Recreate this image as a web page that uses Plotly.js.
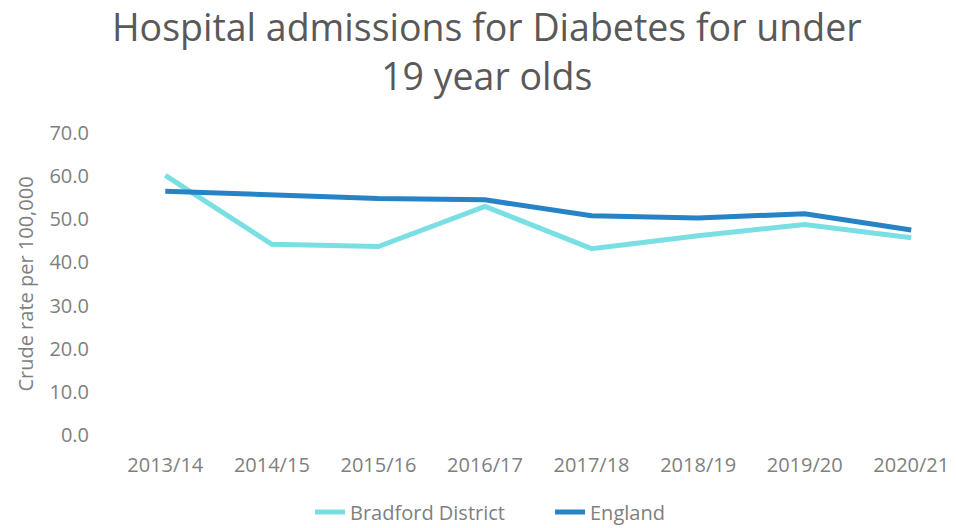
<!DOCTYPE html>
<html>
<head>
<meta charset="utf-8">
<script src="https://cdn.plot.ly/plotly-3.0.1.min.js"></script>
<style>html,body{margin:0;padding:0;background:#fff;}#chart{width:956px;height:528px;}</style>
</head>
<body>
<div id="chart"></div>
<script>
const categories = ["2013/14","2014/15","2015/16","2016/17","2017/18","2018/19","2019/20","2020/21"];
const bradford = [60.2, 44.2, 43.7, 53.0, 43.2, 46.2, 48.8, 45.7];
const england = [56.5, 55.7, 54.8, 54.5, 50.8, 50.3, 51.3, 47.5];
const yTicks = [0,10,20,30,40,50,60,70];
const yTickText = yTicks.map(v => v.toFixed(1));

const font = "Open Sans, Liberation Sans, sans-serif";
const traces = [
  {x: categories, y: bradford, name: "Bradford District", type: "scatter", mode: "lines",
   line: {color: "#7ADFE3", width: 5}},
  {x: categories, y: england, name: "England", type: "scatter", mode: "lines",
   line: {color: "#2683C6", width: 5}}
];
const layout = {
  width: 956, height: 528,
  margin: {l: 112, r: 0, t: 133, b: 93, autoexpand: false},
  paper_bgcolor: "#fff", plot_bgcolor: "#fff",
  font: {family: font, color: "#7f7f7f"},
  title: {text: "Hospital admissions for Diabetes for under<br>19 year olds",
    font: {family: font, size: 37.5, color: "#595959"},
    xref: "paper", x: 0.444, xanchor: "center",
    yref: "container", y: 0.922, yanchor: "middle"},
  xaxis: {type: "category", range: [-0.5, 7.42], showgrid: false, zeroline: false, showline: false,
    ticks: "outside", ticklen: 12, tickcolor: "rgba(0,0,0,0)",
    tickfont: {size: 20, color: "#7f7f7f"}, fixedrange: true, automargin: false},
  yaxis: {range: [0, 70], tickvals: yTicks, ticktext: yTickText, showgrid: false, zeroline: false,
    showline: false, ticks: "outside", ticklen: 18, tickcolor: "rgba(0,0,0,0)",
    tickfont: {size: 20, color: "#7f7f7f"}, automargin: false,
    title: {text: "Crude rate per 100,000", font: {size: 20, color: "#7f7f7f"}, standoff: 10}},
  showlegend: true,
  legend: {orientation: "h", xref: "paper", x: (310 - 112) / 844, xanchor: "left",
    yref: "container", y: 1 - 512 / 528, yanchor: "middle",
    entrywidth: 195, entrywidthmode: "pixels",
    font: {size: 20, color: "#7f7f7f"}, itemwidth: 30, tracegroupgap: 0}
};
Plotly.newPlot("chart", traces, layout, {displayModeBar: false, staticPlot: true});
</script>
</body>
</html>
